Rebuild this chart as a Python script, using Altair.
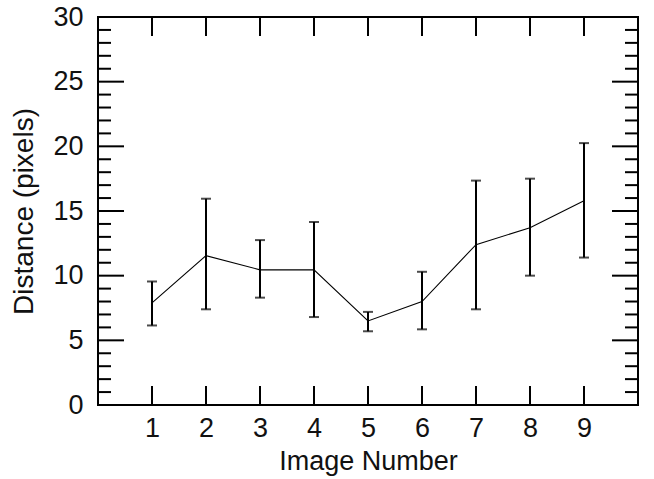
import altair as alt
import pandas as pd

# data
image_number = [1, 2, 3, 4, 5, 6, 7, 8, 9]
mean_dist = [7.9, 11.55, 10.45, 10.45, 6.5, 8.0, 12.4, 13.7, 15.8]
upper_dist = [9.55, 15.95, 12.75, 14.15, 7.2, 10.3, 17.35, 17.5, 20.25]
lower_dist = [6.15, 7.4, 8.3, 6.8, 5.7, 5.85, 7.4, 10.0, 11.4]

x_tick_values = [1, 2, 3, 4, 5, 6, 7, 8, 9]
y_major_values = [0, 5, 10, 15, 20, 25, 30]
y_minor_values = [v for v in range(1, 30) if v % 5 != 0]

FONT = "Liberation Sans"
W, H = 540, 388

df = pd.DataFrame({"img": image_number, "dist": mean_dist,
                   "hi": upper_dist, "lo": lower_dist})
xt = pd.DataFrame({"v": x_tick_values})
ymaj = pd.DataFrame({"v": y_major_values})
ymin = pd.DataFrame({"v": y_minor_values})

xscale = alt.Scale(domain=[0, 10], nice=False, zero=False)
yscale = alt.Scale(domain=[0, 30], nice=False, zero=False)

xaxis = alt.Axis(values=x_tick_values, title="Image Number",
                 ticks=False, domain=False, grid=False,
                 labelPadding=10, titlePadding=7, format="d")
yaxis = alt.Axis(values=y_major_values, title="Distance (pixels)",
                 ticks=False, domain=False, grid=False,
                 labelPadding=15, titlePadding=14, titleFontSize=28,
                 format="d")


def X(field):
    return alt.X(field, scale=xscale, axis=xaxis)


def Y(field):
    return alt.Y(field, scale=yscale, axis=yaxis)


line = alt.Chart(df).mark_line(color="black", strokeWidth=1.1).encode(
    x=X("img:Q"), y=Y("dist:Q"))

bars = alt.Chart(df).mark_rule(color="black", strokeWidth=2).encode(
    x=X("img:Q"), y=Y("lo:Q"), y2="hi:Q")
cap_hi = alt.Chart(df).mark_tick(color="black", thickness=2, size=10,
                                 orient="horizontal").encode(
    x=X("img:Q"), y=Y("hi:Q"))
cap_lo = alt.Chart(df).mark_tick(color="black", thickness=2, size=10,
                                 orient="horizontal").encode(
    x=X("img:Q"), y=Y("lo:Q"))


def yticks(data, length):
    left = alt.Chart(data).mark_rule(color="black", strokeWidth=2).encode(
        y=Y("v:Q"), x=alt.value(0), x2=alt.value(length))
    right = alt.Chart(data).mark_rule(color="black", strokeWidth=2).encode(
        y=Y("v:Q"), x=alt.value(W), x2=alt.value(W - length))
    return [left, right]


xtick_top = alt.Chart(xt).mark_rule(color="black", strokeWidth=2).encode(
    x=X("v:Q"), y=alt.value(0), y2=alt.value(19))
xtick_bot = alt.Chart(xt).mark_rule(color="black", strokeWidth=2).encode(
    x=X("v:Q"), y=alt.value(H), y2=alt.value(H - 19))

chart = alt.layer(
    line, *yticks(ymaj, 26), *yticks(ymin, 13), xtick_top, xtick_bot,
    bars, cap_hi, cap_lo,
).properties(
    width=W, height=H,
    autosize=alt.AutoSizeParams(type="none"),
    padding={"left": 98, "top": 17, "right": 16, "bottom": 74},
    background="white",
).configure_view(
    stroke="black", strokeWidth=2,
).configure_axis(
    labelFont=FONT, titleFont=FONT, labelFontSize=27, titleFontSize=27,
    labelColor="#111", titleColor="#111", titleFontWeight="normal",
)

chart.save("out.html", embed_options={"renderer": "svg", "actions": False})
